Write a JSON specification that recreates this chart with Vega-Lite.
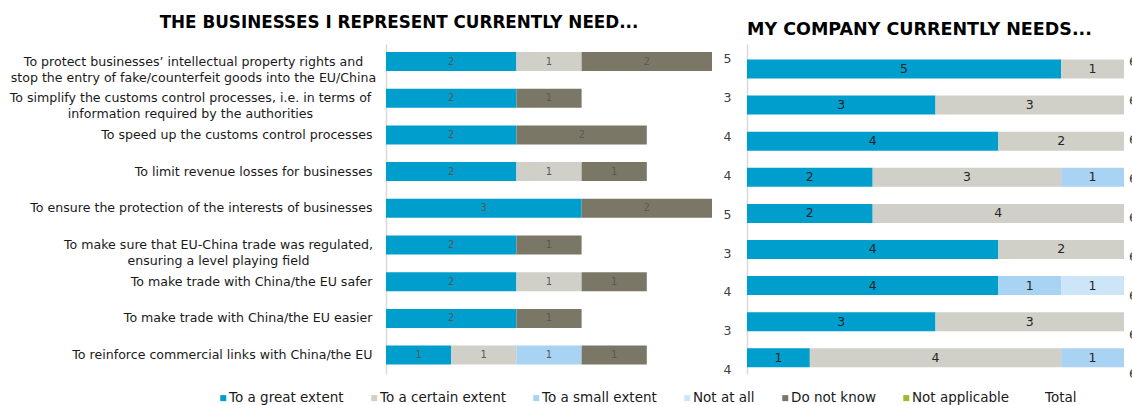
{
  "$schema": "https://vega.github.io/schema/vega-lite/v6.json",
  "padding": {"left": 9, "top": 15, "right": 0, "bottom": 0},
  "config": {"font": "DejaVu Sans", "view": {"stroke": null}, "concat": {"spacing": 15}},
  "datasets": {
    "d": [
      {"p": "L", "q": "To protect businesses’ intellectual property rights and|stop the entry of fake/counterfeit goods into the EU/China", "r": "To a great extent", "v": 2},
      {"p": "L", "q": "To protect businesses’ intellectual property rights and|stop the entry of fake/counterfeit goods into the EU/China", "r": "To a certain extent", "v": 1},
      {"p": "L", "q": "To protect businesses’ intellectual property rights and|stop the entry of fake/counterfeit goods into the EU/China", "r": "Do not know", "v": 2},
      {"p": "L", "q": "To simplify the customs control processes, i.e. in terms of|information required by the authorities", "r": "To a great extent", "v": 2},
      {"p": "L", "q": "To simplify the customs control processes, i.e. in terms of|information required by the authorities", "r": "Do not know", "v": 1},
      {"p": "L", "q": "To speed up the customs control processes", "r": "To a great extent", "v": 2},
      {"p": "L", "q": "To speed up the customs control processes", "r": "Do not know", "v": 2},
      {"p": "L", "q": "To limit revenue losses for businesses", "r": "To a great extent", "v": 2},
      {"p": "L", "q": "To limit revenue losses for businesses", "r": "To a certain extent", "v": 1},
      {"p": "L", "q": "To limit revenue losses for businesses", "r": "Do not know", "v": 1},
      {"p": "L", "q": "To ensure the protection of the interests of businesses", "r": "To a great extent", "v": 3},
      {"p": "L", "q": "To ensure the protection of the interests of businesses", "r": "Do not know", "v": 2},
      {"p": "L", "q": "To make sure that EU-China trade was regulated,|ensuring a level playing field", "r": "To a great extent", "v": 2},
      {"p": "L", "q": "To make sure that EU-China trade was regulated,|ensuring a level playing field", "r": "Do not know", "v": 1},
      {"p": "L", "q": "To make trade with China/the EU safer", "r": "To a great extent", "v": 2},
      {"p": "L", "q": "To make trade with China/the EU safer", "r": "To a certain extent", "v": 1},
      {"p": "L", "q": "To make trade with China/the EU safer", "r": "Do not know", "v": 1},
      {"p": "L", "q": "To make trade with China/the EU easier", "r": "To a great extent", "v": 2},
      {"p": "L", "q": "To make trade with China/the EU easier", "r": "Do not know", "v": 1},
      {"p": "L", "q": "To reinforce commercial links with China/the EU", "r": "To a great extent", "v": 1},
      {"p": "L", "q": "To reinforce commercial links with China/the EU", "r": "To a certain extent", "v": 1},
      {"p": "L", "q": "To reinforce commercial links with China/the EU", "r": "To a small extent", "v": 1},
      {"p": "L", "q": "To reinforce commercial links with China/the EU", "r": "Do not know", "v": 1},
      {"p": "R", "q": "To protect businesses’ intellectual property rights and|stop the entry of fake/counterfeit goods into the EU/China", "r": "To a great extent", "v": 5},
      {"p": "R", "q": "To protect businesses’ intellectual property rights and|stop the entry of fake/counterfeit goods into the EU/China", "r": "To a certain extent", "v": 1},
      {"p": "R", "q": "To simplify the customs control processes, i.e. in terms of|information required by the authorities", "r": "To a great extent", "v": 3},
      {"p": "R", "q": "To simplify the customs control processes, i.e. in terms of|information required by the authorities", "r": "To a certain extent", "v": 3},
      {"p": "R", "q": "To speed up the customs control processes", "r": "To a great extent", "v": 4},
      {"p": "R", "q": "To speed up the customs control processes", "r": "To a certain extent", "v": 2},
      {"p": "R", "q": "To limit revenue losses for businesses", "r": "To a great extent", "v": 2},
      {"p": "R", "q": "To limit revenue losses for businesses", "r": "To a certain extent", "v": 3},
      {"p": "R", "q": "To limit revenue losses for businesses", "r": "To a small extent", "v": 1},
      {"p": "R", "q": "To ensure the protection of the interests of businesses", "r": "To a great extent", "v": 2},
      {"p": "R", "q": "To ensure the protection of the interests of businesses", "r": "To a certain extent", "v": 4},
      {"p": "R", "q": "To make sure that EU-China trade was regulated,|ensuring a level playing field", "r": "To a great extent", "v": 4},
      {"p": "R", "q": "To make sure that EU-China trade was regulated,|ensuring a level playing field", "r": "To a certain extent", "v": 2},
      {"p": "R", "q": "To make trade with China/the EU safer", "r": "To a great extent", "v": 4},
      {"p": "R", "q": "To make trade with China/the EU safer", "r": "To a small extent", "v": 1},
      {"p": "R", "q": "To make trade with China/the EU safer", "r": "Not at all", "v": 1},
      {"p": "R", "q": "To make trade with China/the EU easier", "r": "To a great extent", "v": 3},
      {"p": "R", "q": "To make trade with China/the EU easier", "r": "To a certain extent", "v": 3},
      {"p": "R", "q": "To reinforce commercial links with China/the EU", "r": "To a great extent", "v": 1},
      {"p": "R", "q": "To reinforce commercial links with China/the EU", "r": "To a certain extent", "v": 4},
      {"p": "R", "q": "To reinforce commercial links with China/the EU", "r": "To a small extent", "v": 1}
    ]
  },
  "data": {"name": "d"},
  "resolve": {"scale": {"color": "shared"}, "legend": {"color": "shared"}},
  "hconcat": [
    {
      "width": 326,
      "height": 330,
      "title": {"text": "THE BUSINESSES I REPRESENT CURRENTLY NEED...", "anchor": "middle", "frame": "group", "dx": -150, "offset": -1, "baseline": "alphabetic", "fontSize": 16.8, "fontWeight": "bold", "color": "#000000"},
      "transform": [
        {"filter": "datum.p === 'L'"},
        {"calculate": "indexof(['To a great extent','To a certain extent','To a small extent','Not at all','Do not know'], datum.r)", "as": "ord"},
        {"stack": "v", "groupby": ["q"], "sort": [{"field": "ord", "order": "ascending"}], "as": ["x0", "x1"]},
        {"calculate": "(datum.x0 + datum.x1) / 2", "as": "mid"}
      ],
      "resolve": {"scale": {"y": "independent"}},
      "layer": [
        {
          "mark": {"type": "bar"},
          "encoding": {
            "y": {"field": "q", "type": "nominal", "sort": null,
              "scale": {"type": "band", "paddingInner": 0.482, "paddingOuter": 0.237, "align": 0.46},
              "axis": {"title": null, "domain": true, "domainColor": "#d9d9d9", "domainWidth": 1.5, "ticks": false,
                "labelFontSize": 12.6, "labelColor": "#1a1a1a", "labelLimit": 600, "labelLineHeight": 16,
                "labelExpr": "split(datum.label, '|')",
                "labelAlign": {"condition": {"test": "indexof(datum.value, '|') >= 0", "value": "center"}, "value": "right"},
                "labelPadding": {"condition": [
                  {"test": "indexof(datum.value, 'To protect') === 0", "value": 193},
                  {"test": "indexof(datum.value, 'To simplify') === 0", "value": 196},
                  {"test": "indexof(datum.value, 'To make sure') === 0", "value": 168}
                ], "value": 14}
              }},
            "x": {"field": "x0", "type": "quantitative", "scale": {"domain": [0, 5]}, "axis": null},
            "x2": {"field": "x1"},
            "color": {"field": "r", "type": "nominal",
              "scale": {"domain": ["To a great extent", "To a certain extent", "To a small extent", "Not at all", "Do not know", "Not applicable", "Total"],
                "range": ["#009ECD", "#D0CFC8", "#A8D3F2", "#CCE5F8", "#7A7766", "#9BBB2B", "#FFFFFF"]},
              "legend": {"orient": "none", "legendX": -169.5, "legendY": 347, "direction": "horizontal", "title": null,
                "symbolType": "square", "symbolSize": 36, "symbolStrokeWidth": 0, "labelOffset": -1, "columnPadding": 23,
                "labelFontSize": 13.5, "labelColor": "#1a1a1a", "padding": 0}}
          }
        },
        {
          "mark": {"type": "text", "fontSize": 10, "color": "#595959"},
          "encoding": {
            "y": {"field": "q", "type": "nominal", "sort": null,
              "scale": {"type": "band", "paddingInner": 0.482, "paddingOuter": 0.237, "align": 0.46}, "axis": null},
            "x": {"field": "mid", "type": "quantitative"},
            "text": {"field": "v", "type": "quantitative"}
          }
        },
        {
          "transform": [{"aggregate": [{"op": "sum", "field": "v", "as": "total"}], "groupby": ["q"]}],
          "mark": {"type": "text", "fontSize": 12.5, "color": "#404040", "dx": 15.5},
          "encoding": {
            "y": {"field": "q", "type": "nominal", "sort": null,
              "scale": {"type": "point", "padding": 0.2416, "align": 0.8}, "axis": null},
            "x": {"datum": 5},
            "text": {"field": "total", "type": "quantitative"}
          }
        }
      ]
    },
    {
      "width": 377,
      "height": 330,
      "title": {"text": "MY COMPANY CURRENTLY NEEDS...", "anchor": "start", "frame": "group", "offset": -8, "baseline": "alphabetic", "fontSize": 17.5, "fontWeight": "bold", "color": "#000000"},
      "transform": [
        {"filter": "datum.p === 'R'"},
        {"calculate": "indexof(['To a great extent','To a certain extent','To a small extent','Not at all','Do not know'], datum.r)", "as": "ord"},
        {"stack": "v", "groupby": ["q"], "sort": [{"field": "ord", "order": "ascending"}], "as": ["x0", "x1"]},
        {"calculate": "(datum.x0 + datum.x1) / 2", "as": "mid"}
      ],
      "resolve": {"scale": {"y": "independent"}},
      "layer": [
        {
          "mark": {"type": "bar"},
          "encoding": {
            "y": {"field": "q", "type": "nominal", "sort": null,
              "scale": {"type": "band", "paddingInner": 0.474, "paddingOuter": 0.3076, "align": 0.698},
              "axis": {"title": null, "labels": false, "domain": true, "domainColor": "#d9d9d9", "domainWidth": 1.5, "ticks": false}},
            "x": {"field": "x0", "type": "quantitative", "scale": {"domain": [0, 6]}, "axis": null},
            "x2": {"field": "x1"},
            "color": {"field": "r", "type": "nominal"}
          }
        },
        {
          "mark": {"type": "text", "fontSize": 12.5, "color": "#262626"},
          "encoding": {
            "y": {"field": "q", "type": "nominal", "sort": null,
              "scale": {"type": "band", "paddingInner": 0.474, "paddingOuter": 0.3076, "align": 0.698}, "axis": null},
            "x": {"field": "mid", "type": "quantitative"},
            "text": {"field": "v", "type": "quantitative"}
          }
        },
        {
          "transform": [{"aggregate": [{"op": "sum", "field": "v", "as": "total"}], "groupby": ["q"]}],
          "mark": {"type": "text", "fontSize": 12.5, "color": "#404040", "dx": 9},
          "encoding": {
            "y": {"field": "q", "type": "nominal", "sort": null,
              "scale": {"type": "point", "padding": 0.2416, "align": 0.98}, "axis": null},
            "x": {"datum": 6},
            "text": {"field": "total", "type": "quantitative"}
          }
        }
      ]
    }
  ]
}
